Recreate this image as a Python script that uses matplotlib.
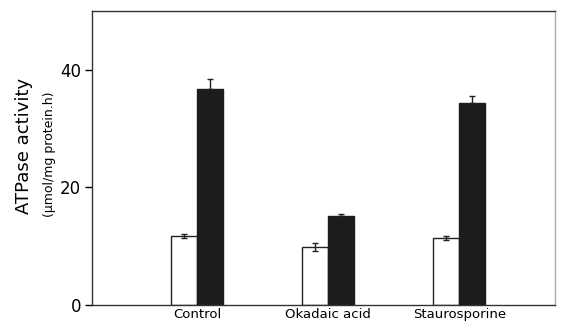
import matplotlib
matplotlib.use("Agg")
import matplotlib.pyplot as plt
import numpy as np

# values
treatments = ["Control", "Okadaic acid", "Staurosporine"]
open_vals = [11.7, 9.8, 11.4]
open_err = [0.3, 0.7, 0.3]
filled_vals = [36.8, 15.2, 34.4]
filled_err = [1.7, 0.2, 1.2]

plt.rcParams['font.family'] = ['DejaVu Sans']

fig = plt.figure(figsize=(5.61, 3.24), dpi=100)
ax = fig.add_axes([92/561, 19/324, 463/561, 294/324])

x = np.arange(len(treatments))
w = 0.2
ax.bar(x - w/2, open_vals, w, color="white", edgecolor="#222222", linewidth=1.0,
       yerr=open_err, error_kw=dict(ecolor="#222222", elinewidth=1.0, capsize=2, capthick=1.0))
ax.bar(x + w/2, filled_vals, w, color="#1c1c1c", edgecolor="#1c1c1c", linewidth=1.0)
ax.errorbar(x + w/2, filled_vals, yerr=[np.zeros(3), filled_err], fmt="none",
            ecolor="#222222", elinewidth=1.0, capsize=2, capthick=1.0)

ax.set_xlim(-0.80, 2.73)
ax.set_ylim(0, 50)
ax.set_yticks([0, 20, 40])
ax.set_xticks(x)
ax.set_xticklabels(treatments, fontsize=9.5)
ax.tick_params(axis="x", length=0, pad=2)
ax.tick_params(axis="y", length=5, width=1.0, labelsize=12, pad=3)
for s in ax.spines.values():
    s.set_linewidth(1.0)
    s.set_color("#333333")
ax.spines["right"].set_color("#aaaaaa")

fig.text(24/561, 1 - 146/324, "ATPase activity", rotation=90, ha="center", va="center", fontsize=13)
fig.text(50/561, 1 - 154/324, "(\u03bcmol/mg protein.h)", rotation=90, ha="center", va="center", fontsize=9)

fig.savefig("out.png", dpi=100)
